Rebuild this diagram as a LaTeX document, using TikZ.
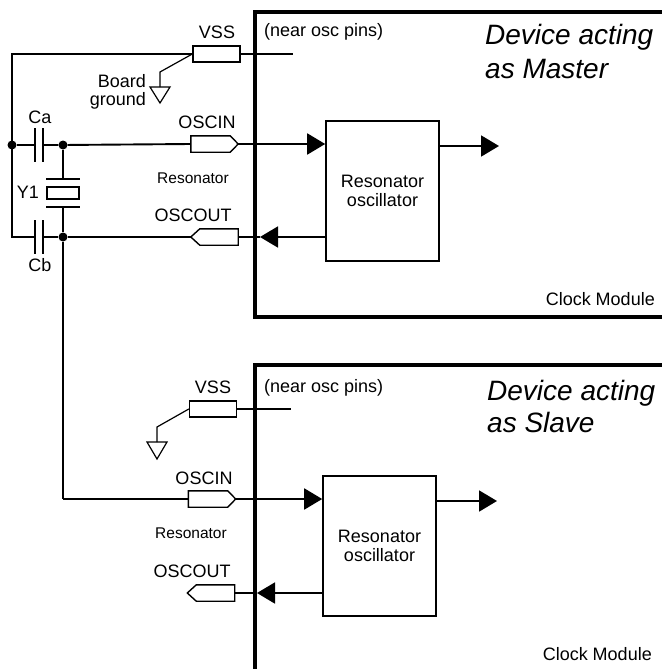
\documentclass[tikz,border=0pt]{standalone}
\usepackage{fontspec}
\setmainfont{Liberation Sans}
\usetikzlibrary{arrows.meta}
\begin{document}
\begin{tikzpicture}[x=1pt,y=-1pt,
  wire/.style={line width=1.9pt},
  thinw/.style={line width=1.2pt},
  border/.style={line width=3.2pt},
  pinline/.style={line width=1.4pt, fill=white},
  pinspace/.style={inner sep=0pt, minimum width=47pt, minimum height=16pt},
  vssbox/.style={draw, line width=1.4pt, fill=white, inner sep=0pt, minimum width=47pt, minimum height=16pt},
  osc/.style={draw, line width=1.6pt, minimum width=113pt, minimum height=140pt, align=center, inner sep=0pt, font=\fontsize{18}{18.5}\selectfont},
  lbl/.style={font=\fontsize{18}{20}\selectfont, inner sep=0pt},
  small/.style={font=\fontsize{15.5}{18}\selectfont, inner sep=0pt},
  big/.style={font=\fontsize{28}{33}\selectfont\itshape, inner sep=0pt},
  dot/.style={circle, fill, inner sep=0pt, minimum size=9pt},
  arr/.style={-{Triangle[length=18pt,width=21pt]}},
]
\useasboundingbox (0,0) rectangle (661,669);

% ---------------- Master ----------------
\node[vssbox] (mVss) at (216.5,54) {};
\node[pinspace] (mIn) at (214.5,144) {};
\node[pinspace] (mOut) at (214.5,237) {};
\node[osc] (mosc) at (382.5,191) {Resonator\\oscillator};

\node[dot] (d1) at (12,145) {};
\node[dot] (d2) at (63,145) {};
\node[dot] (d3) at (63,237) {};
\coordinate (tl) at (12,54);
\coordinate (bl) at (12,237);
\coordinate (caL) at (35,145);
\coordinate (caR) at (43,145);
\coordinate (cbL) at (35,237);
\coordinate (cbR) at (43,237);
\coordinate (y1t) at (63,179);
\coordinate (y1b) at (63,207);
\coordinate (corner) at (63,499);
\coordinate (mVssEnd) at (293,54);
\coordinate (mOutTip) at (499,146);
\coordinate (mRetTip) at (260,237);
\coordinate (mg1) at (160,72);
\coordinate (mg2) at (160,87);

% loop and capacitors
\draw[wire] (mVss.west) -- (tl) -- (bl) -- (cbL);
\draw[wire] (d1) -- (caL);
\draw[wire] (caR) -- (d2) -- (mIn.west);
\draw[wire] (cbR) -- (d3) -- (mOut.west);
\draw[wire] ([yshift=17pt]caL) -- ([yshift=-17pt]caL);
\draw[wire] ([yshift=17pt]caR) -- ([yshift=-17pt]caR);
\draw[wire] ([yshift=17pt]cbL) -- ([yshift=-17pt]cbL);
\draw[wire] ([yshift=17pt]cbR) -- ([yshift=-17pt]cbR);
% crystal
\draw[wire] (d2) -- (y1t);
\draw[wire] ([xshift=-17pt]y1t) -- ([xshift=17pt]y1t);
\draw[wire] (47,187) rectangle (79,199);
\draw[wire] ([xshift=-17pt]y1b) -- ([xshift=17pt]y1b);
\draw[wire] (y1b) -- (d3) -- (corner);

% VSS
\draw[wire] (mVss.east) -- (mVssEnd);
\draw[thinw] (mVss.west) -- (mg1) -- (mg2);
\draw[thinw] ([xshift=-10pt]mg2) -- ([xshift=10pt]mg2) -- (160,103) -- cycle;

% pins
\draw[pinline] (mIn.north west) -- ([xshift=-8pt]mIn.north east) -- (mIn.east) -- ([xshift=-8pt]mIn.south east) -- (mIn.south west) -- cycle;
\draw[pinline] (mOut.west) -- ([xshift=9pt]mOut.north west) -- (mOut.north east) -- (mOut.south east) -- ([xshift=9pt]mOut.south west) -- cycle;

% arrows
\draw[wire, arr] (mIn.east) -- (mIn.east -| mosc.west);
\draw[wire, arr] (mosc.east |- mOutTip) -- (mOutTip);
\draw[wire, arr] (mosc.west |- mRetTip) -- (mRetTip);
\draw[wire] (mRetTip) -- (mOut.east);

% border
\draw[border] (664,12) -- (255,12) -- (255,317) -- (664,317);

% labels
\node[lbl, anchor=base] (tVss) at (217,38) {VSS};
\node[lbl, anchor=base west] (tNear) at (264,37) {(near osc pins)};
\node[lbl, anchor=base east] (tBoard) at (146,87) {Board};
\node[lbl, anchor=base east] (tGround) at (146,105) {ground};
\node[lbl, anchor=base] (tCa) at (40,123) {Ca};
\node[lbl, anchor=base] (tY1) at (28,198) {Y1};
\node[lbl, anchor=base] (tCb) at (40,271) {Cb};
\node[lbl, anchor=base] (tIn) at (207,128) {OSCIN};
\node[small, anchor=base] (tRes) at (193,183) {Resonator};
\node[lbl, anchor=base] (tOut) at (193,221) {OSCOUT};
\node[big, anchor=base west] (tDev1) at (485,45) {Device acting};
\node[big, anchor=base west] (tDev2) at (485,78) {as Master};
\node[lbl, anchor=base east] (tClk) at (655,305) {Clock Module};

% ---------------- Slave ----------------
\node[vssbox] (sVss) at (213,409) {};
\node[pinspace] (sIn) at (212,499) {};
\node[pinspace] (sOut) at (211,593) {};
\node[osc] (sosc) at (379.5,546) {Resonator\\oscillator};
\coordinate (sVssEnd) at (291,409);
\coordinate (sOutTip) at (497,501);
\coordinate (sRetTip) at (257,593);
\coordinate (sg1) at (157,427);
\coordinate (sg2) at (157,442);

\draw[wire] (corner) -- (sIn.west);
\draw[wire] (sVss.east) -- (sVssEnd);
\draw[thinw] (sVss.west) -- (sg1) -- (sg2);
\draw[thinw] ([xshift=-10pt]sg2) -- ([xshift=10pt]sg2) -- (157,459) -- cycle;

\draw[pinline] (sIn.north west) -- ([xshift=-8pt]sIn.north east) -- (sIn.east) -- ([xshift=-8pt]sIn.south east) -- (sIn.south west) -- cycle;
\draw[pinline] (sOut.west) -- ([xshift=9pt]sOut.north west) -- (sOut.north east) -- (sOut.south east) -- ([xshift=9pt]sOut.south west) -- cycle;

\draw[wire, arr] (sIn.east) -- (sIn.east -| sosc.west);
\draw[wire, arr] (sosc.east |- sOutTip) -- (sOutTip);
\draw[wire, arr] (sosc.west |- sRetTip) -- (sRetTip);
\draw[wire] (sRetTip) -- (sOut.east);

\draw[border] (664,365) -- (255,365) -- (255,672);

\node[lbl, anchor=base] (uVss) at (213,393) {VSS};
\node[lbl, anchor=base west] (uNear) at (264,392) {(near osc pins)};
\node[lbl, anchor=base] (uIn) at (204,484) {OSCIN};
\node[small, anchor=base] (uRes) at (191,538) {Resonator};
\node[lbl, anchor=base] (uOut) at (192,577) {OSCOUT};
\node[big, anchor=base west] (uDev1) at (487,400) {Device acting};
\node[big, anchor=base west] (uDev2) at (487,432) {as Slave};
\node[lbl, anchor=base east] (uClk) at (652,660) {Clock Module};
\end{tikzpicture}
\end{document}
